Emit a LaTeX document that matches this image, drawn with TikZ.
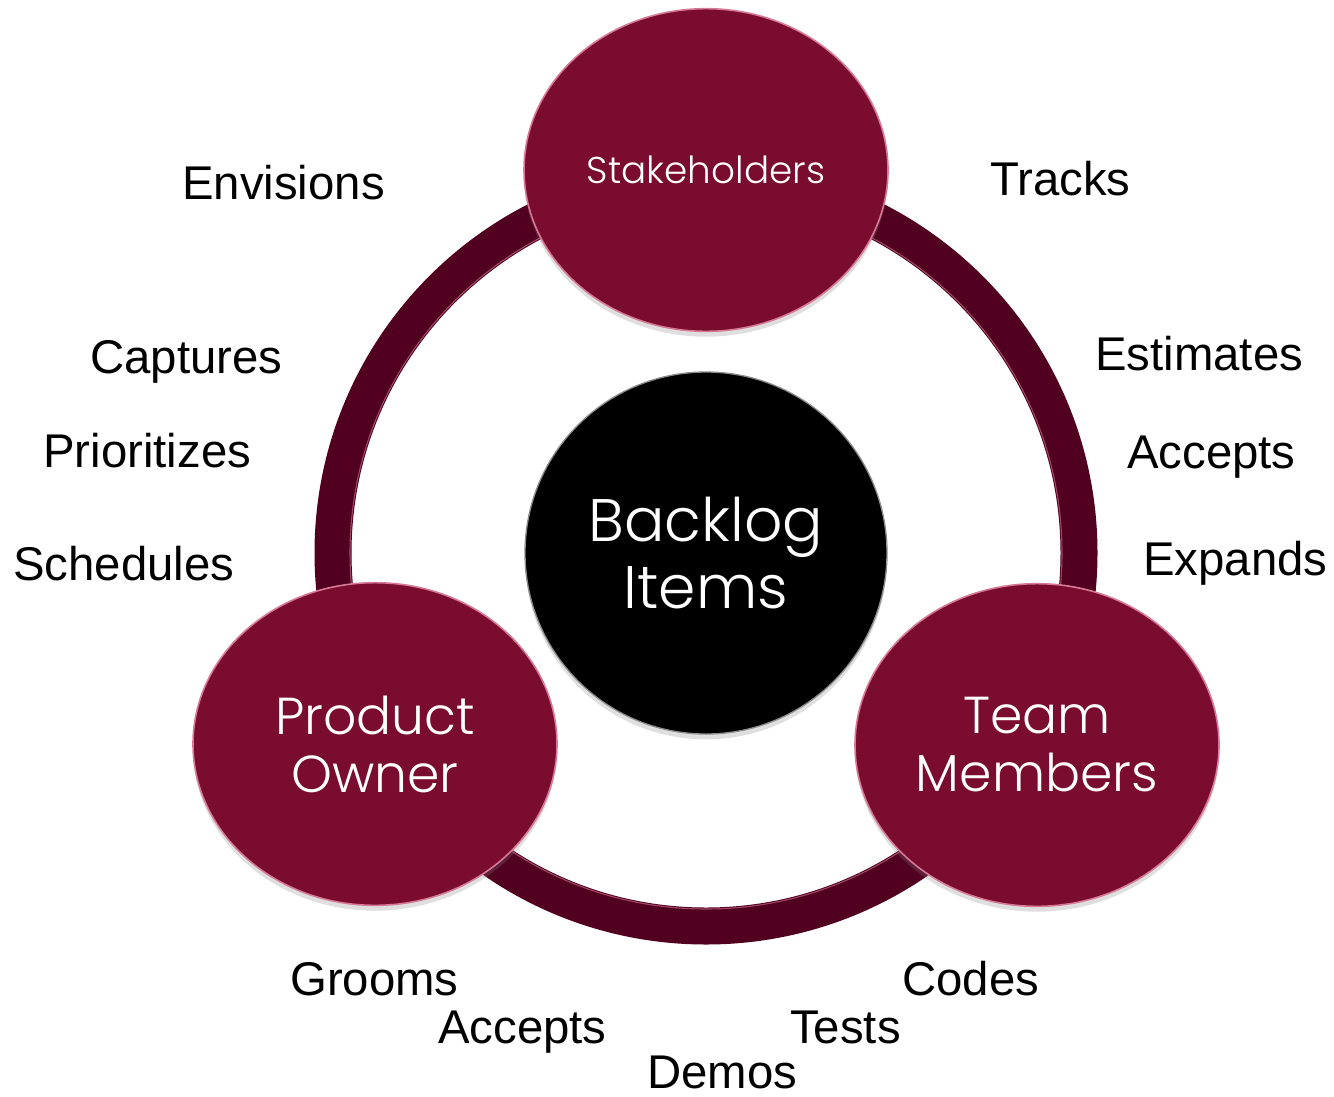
\documentclass[tikz,border=0pt]{standalone}
\usepackage{fontspec}
\setmainfont{Liberation Sans}
\newfontfamily\roundfont{Poppins}[UprightFont={* Light}]
\usetikzlibrary{shapes.geometric,backgrounds,shadows}

\definecolor{wine}{RGB}{122,13,47}
\definecolor{ringwine}{RGB}{82,0,32}
\definecolor{rimpink}{RGB}{214,120,150}

\tikzset{
  bubble/.style={ellipse, fill=wine, draw=rimpink, line width=1.2pt, inner sep=0pt,
    minimum width=273pt, minimum height=242pt, text=white, align=center,
    drop shadow={shadow xshift=0pt, shadow yshift=-4pt, opacity=0.25}},
  verb/.style={anchor=base west, inner sep=0pt, font=\fontsize{35.5}{42}\selectfont}
}

\begin{document}
\begin{tikzpicture}[x=0.75pt,y=-0.75pt]
\useasboundingbox (0,0) rectangle (1334,1096);

% Circles
\node [circle, fill=black, draw=white!55!black, line width=1pt, minimum size=271.5pt, inner sep=0pt,
  text=white, align=center, drop shadow={shadow xshift=0pt, shadow yshift=-4pt, opacity=0.25},
  font=\roundfont\fontsize{45}{50}\selectfont] (backlog) at (706,553) {Backlog\\Items};
\node [bubble, font=\roundfont\fontsize{28}{34}\selectfont] (stake) at (706,170) {Stakeholders};
\node [bubble, font=\roundfont\fontsize{39}{43.5}\selectfont] (owner) at (375,744) {Product\\Owner};
\node [bubble, font=\roundfont\fontsize{39}{43.5}\selectfont] (team) at (1037,745) {Team\\Members};

% Ring
\begin{scope}[on background layer]
\draw [ringwine, line width=27.75pt] (backlog.center) circle [radius=279.75pt];
\draw [rimpink, opacity=0.6, line width=0.8pt] (backlog.center) circle [radius=267pt];
\end{scope}

% Text Node
\node [verb] (envisions) at (182,199) {Envisions};
% Text Node
\node [verb] (captures) at (90,373) {Captures};
% Text Node
\node [verb] (prioritizes) at (43,467) {Prioritizes};
% Text Node
\node [verb] (schedules) at (13,580) {Schedules};
% Text Node
\node [verb] (tracks) at (990,195) {Tracks};
% Text Node
\node [verb] (estimates) at (1095,370) {Estimates};
% Text Node
\node [verb] (acceptsR) at (1127,468) {Accepts};
% Text Node
\node [verb] (expands) at (1143,575) {Expands};
% Text Node
\node [verb] (grooms) at (290,995) {Grooms};
% Text Node
\node [verb] (acceptsB) at (438,1043) {Accepts};
% Text Node
\node [verb] (demos) at (647,1088) {Demos};
% Text Node
\node [verb] (tests) at (790,1043) {Tests};
% Text Node
\node [verb] (codes) at (902,995) {Codes};

\end{tikzpicture}
\end{document}
